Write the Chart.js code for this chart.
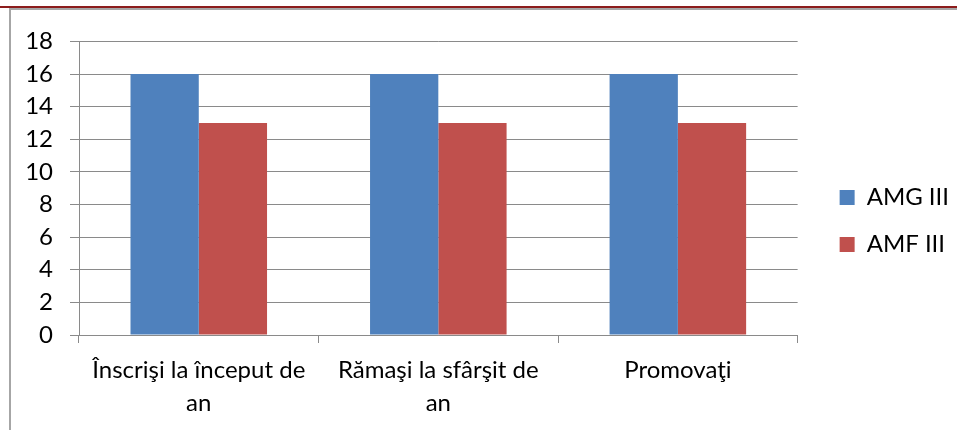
<!DOCTYPE html>
<html>
<head>
<meta charset="utf-8">
<script src="https://cdn.jsdelivr.net/npm/chart.js@4/dist/chart.umd.min.js"></script>
<style>
    html, body { margin: 0; padding: 0; background: #fff; }
    body { width: 957px; height: 430px; position: relative; overflow: hidden; }
    .top-red { position: absolute; left: 0; top: 6px; width: 957px; height: 2px; background: #8c1c1c; }
    .top-gray { position: absolute; left: 9px; top: 8px; width: 948px; height: 2px; background: #a6a6a6; }
    .left-gray { position: absolute; left: 9px; top: 8px; width: 2px; height: 422px; background: #a6a6a6; }
    .chart-box { position: absolute; left: 11px; top: 10px; width: 946px; height: 420px; }
</style>
</head>
<body>
<div class="top-red"></div>
<div class="top-gray"></div>
<div class="left-gray"></div>
<div class="chart-box"><canvas id="barChart"></canvas></div>
<script>
// chart data
const categories = [['Înscrişi la început de', 'an'], ['Rămaşi la sfârşit de', 'an'], 'Promovaţi'];
const amgValues = [16, 16, 16];
const amfValues = [13, 13, 13];
const seriesNames = ['AMG III', 'AMF III'];

const gridColor = '#8a8a8a';

// move the legend box a bit right / up, like the original sheet
const legendShift = {
    id: 'legendShift',
    afterLayout(chart) {
        const lg = chart.legend;
        if (!lg) return;
        const dx = 19, dy = -13;
        lg.left += dx; lg.right += dx;
        lg.top += dy; lg.bottom += dy;
    }
};

document.addEventListener('DOMContentLoaded', function() {
    Chart.defaults.font.family = 'Lato, "Liberation Sans", sans-serif';
    Chart.defaults.font.size = 24;
    Chart.defaults.color = '#000';

    new Chart(document.getElementById('barChart'), {
        type: 'bar',
        data: {
            labels: categories,
            datasets: [
                {
                    label: seriesNames[0],
                    data: amgValues,
                    backgroundColor: '#4f81bd',
                    borderWidth: 0
                },
                {
                    label: seriesNames[1],
                    data: amfValues,
                    backgroundColor: '#c0504d',
                    borderWidth: 0
                }
            ]
        },
        options: {
            responsive: true,
            maintainAspectRatio: false,
            animation: false,
            categoryPercentage: 0.57,
            barPercentage: 1.0,
            layout: {
                padding: { top: 28, right: 17, bottom: 0, left: 0 }
            },
            plugins: {
                legend: {
                    position: 'right',
                    labels: {
                        boxWidth: 15,
                        boxHeight: 15,
                        padding: 23,
                        color: '#000'
                    }
                },
                tooltip: { enabled: false }
            },
            scales: {
                x: {
                    grid: {
                        drawOnChartArea: false,
                        drawTicks: true,
                        tickLength: 8,
                        color: gridColor
                    },
                    border: { color: gridColor },
                    ticks: {
                        padding: 11,
                        maxRotation: 0,
                        font: { size: 24, lineHeight: 1.375 }
                    },
                    afterFit(scale) { scale.height = 95; }
                },
                y: {
                    min: 0,
                    max: 18,
                    ticks: {
                        stepSize: 2,
                        padding: 17
                    },
                    grid: {
                        color: gridColor,
                        tickLength: 9
                    },
                    border: { color: gridColor },
                    afterFit(scale) { scale.width = 68; }
                }
            }
        },
        plugins: [legendShift]
    });
});
</script>
</body>
</html>
